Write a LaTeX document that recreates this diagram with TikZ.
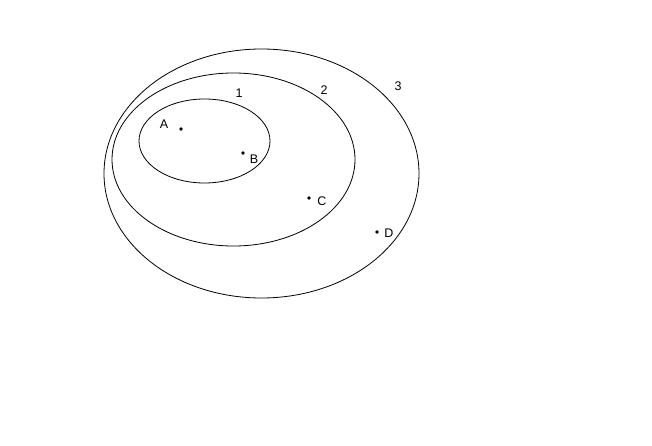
\documentclass[tikz,border=0pt]{standalone}
\usepackage{fontspec}
\setmainfont{Liberation Sans}
\usetikzlibrary{positioning}

\begin{document}
\begin{tikzpicture}[x=1pt,y=-1pt,
  ring/.style={draw=black, line width=0.8pt},
  pt/.style={circle, fill=black, inner sep=0pt, minimum size=3.8pt},
  lbl/.style={font=\fontsize{12.5}{14}\selectfont, text=black, inner sep=1pt}]
\useasboundingbox (0,0) rectangle (652,446);
\fill[white] (0,0) rectangle (652,446);
% nested sets
\draw[ring] (204.5,141) ellipse [x radius=65.5, y radius=42];
\draw[ring] (233.5,159.5) ellipse [x radius=121.5, y radius=86.5];
\draw[ring] (261.5,173.5) ellipse [x radius=157.5, y radius=124.5];
\node[lbl] (one) at (239,93) {1};
\node[lbl] (two) at (324,90) {2};
\node[lbl] (three) at (398,86) {3};
% points
\node[pt] (a) at (181,129) {};
\node[pt] (b) at (243,153) {};
\node[pt] (c) at (309,198) {};
\node[pt] (d) at (377,232) {};
\node[lbl] (la) at (164,124) {A};
\node[lbl] (lb) at (254,159) {B};
\node[lbl] (lc) at (322,201) {C};
\node[lbl] (ld) at (389,233) {D};
\end{tikzpicture}
\end{document}
